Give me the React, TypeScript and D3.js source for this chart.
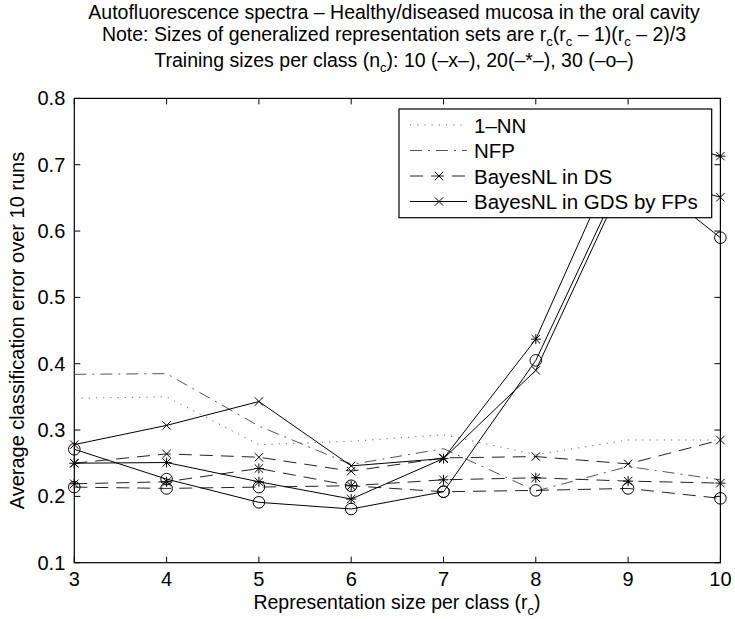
import React from "react";
import * as d3 from "d3";

const xs = [3, 4, 5, 6, 7, 8, 9, 10];
const oneNN = [0.348, 0.350, 0.278, 0.283, 0.293, 0.263, 0.285, 0.285];
const nfp = [0.384, 0.385, 0.306, 0.248, 0.272, 0.208, 0.245, 0.225];
const dsN10 = [0.250, 0.264, 0.259, 0.238, 0.258, 0.260, 0.249, 0.285];
const dsN20 = [0.219, 0.222, 0.242, 0.216, 0.225, 0.228, 0.223, 0.220];
const dsN30 = [0.214, 0.212, 0.214, 0.216, 0.207, 0.209, 0.212, 0.197];
const gdsN10 = [0.278, 0.307, 0.343, 0.246, 0.257, 0.390, 0.690, 0.651];
const gdsN20 = [0.250, 0.251, 0.222, 0.196, 0.257, 0.437, 0.748, 0.713];
const gdsN30 = [0.271, 0.226, 0.191, 0.181, 0.207, 0.405, 0.700, 0.590];

const yTicks = [0.1, 0.2, 0.3, 0.4, 0.5, 0.6, 0.7, 0.8];
const legendLabels = ["1–NN", "NFP", "BayesNL in DS", "BayesNL in GDS by FPs"];

const W = 735, H = 619;
const L = 74.3, R = 720.4, T = 98.4, B = 562.7;
const FONT = "'Liberation Sans', Arial, Helvetica, sans-serif";

type Style = { color: string; dash: string | null; width: number };
const S_DOT: Style = { color: "#666", dash: "1.2,6", width: 1 };
const S_DASHDOT: Style = { color: "#555", dash: "12,6,2,6", width: 1 };
const S_DASH: Style = { color: "#222", dash: "13,8", width: 1 };
const S_SOLID: Style = { color: "#000", dash: null, width: 1 };

function Marker({ kind, x, y }: { kind: string; x: number; y: number }) {
  const s = 4.2;
  if (kind === "o") return <circle cx={x} cy={y} r={5.8} fill="none" stroke="#000" strokeWidth={1} />;
  if (kind === "x")
    return <path d={`M${x - s},${y - s}L${x + s},${y + s}M${x - s},${y + s}L${x + s},${y - s}`} stroke="#000" strokeWidth={1} />;
  const t = 5;
  return (
    <path
      d={`M${x - s},${y - s}L${x + s},${y + s}M${x - s},${y + s}L${x + s},${y - s}M${x},${y - t}L${x},${y + t}M${x - t},${y}L${x + t},${y}`}
      stroke="#000"
      strokeWidth={1}
    />
  );
}

export default function App() {
  const x = d3.scaleLinear().domain([3, 10]).range([L, R]);
  const y = d3.scaleLinear().domain([0.1, 0.8]).range([B, T]);
  const line = d3
    .line<number>()
    .x((_, i) => x(xs[i]))
    .y((d) => y(d));

  const series: { data: number[]; style: Style; marker: string | null }[] = [
    { data: oneNN, style: S_DOT, marker: null },
    { data: nfp, style: S_DASHDOT, marker: null },
    { data: dsN10, style: S_DASH, marker: "x" },
    { data: dsN20, style: S_DASH, marker: "*" },
    { data: dsN30, style: S_DASH, marker: "o" },
    { data: gdsN10, style: S_SOLID, marker: "x" },
    { data: gdsN20, style: S_SOLID, marker: "*" },
    { data: gdsN30, style: S_SOLID, marker: "o" },
  ];

  const legendStyles = [S_DOT, S_DASHDOT, S_DASH, S_SOLID];
  const legendMarkers = [null, null, "x", "x"];
  const lgX0 = 399, lgY0 = 109, lgX1 = 711.7, lgY1 = 217.7;
  const rowY = (i: number) => 125 + i * 25.5;

  return (
    <svg width={W} height={H} style={{ position: "absolute", left: 0, top: 0, background: "#fff" }} fontFamily={FONT}>
      <rect x={0} y={0} width={W} height={H} fill="#fff" />
      {/* title */}
      <g textAnchor="middle" fontSize={19.5} fill="#000">
        <text x={394} y={19}>Autofluorescence spectra – Healthy/diseased mucosa in the oral cavity</text>
        <text x={394} y={41}>
          Note: Sizes of generalized representation sets are r<tspan fontSize={13} dy={5}>c</tspan>
          <tspan dy={-5}>(r</tspan><tspan fontSize={13} dy={5}>c</tspan>
          <tspan dy={-5}> – 1)(r</tspan><tspan fontSize={13} dy={5}>c</tspan>
          <tspan dy={-5}> – 2)/3</tspan>
        </text>
        <text x={394} y={67}>
          Training sizes per class (n<tspan fontSize={13} dy={5}>c</tspan>
          <tspan dy={-5}>): 10 (–x–), 20(–*–), 30 (–o–)</tspan>
        </text>
      </g>

      {/* axes box */}
      <rect x={L} y={T} width={R - L} height={B - T} fill="none" stroke="#000" strokeWidth={1.2} />
      {xs.map((v) => (
        <g key={"xt" + v}>
          <line x1={x(v)} x2={x(v)} y1={B} y2={B - 6} stroke="#000" />
          <line x1={x(v)} x2={x(v)} y1={T} y2={T + 6} stroke="#000" />
          <text x={x(v)} y={B + 23} textAnchor="middle" fontSize={20}>{v}</text>
        </g>
      ))}
      {yTicks.map((v) => (
        <g key={"yt" + v}>
          <line x1={L} x2={L + 6} y1={y(v)} y2={y(v)} stroke="#000" />
          <line x1={R} x2={R - 6} y1={y(v)} y2={y(v)} stroke="#000" />
          <text x={L - 9} y={y(v) + 7} textAnchor="end" fontSize={20}>{v.toFixed(1)}</text>
        </g>
      ))}

      {/* axis labels */}
      <text x={397} y={609} textAnchor="middle" fontSize={19.5}>
        Representation size per class (r<tspan fontSize={13} dy={6}>c</tspan><tspan dy={-6}>)</tspan>
      </text>
      <text transform={`translate(24,${(T + B) / 2}) rotate(-90)`} textAnchor="middle" fontSize={20}>
        Average classification error over 10 runs
      </text>

      {/* series */}
      {series.map((s, k) => (
        <g key={"s" + k}>
          <path d={line(s.data) || ""} fill="none" stroke={s.style.color} strokeWidth={s.style.width} strokeDasharray={s.style.dash || undefined} />
          {s.marker && s.data.map((d, i) => <Marker key={i} kind={s.marker as string} x={x(xs[i])} y={y(d)} />)}
        </g>
      ))}

      {/* legend */}
      <rect x={lgX0} y={lgY0} width={lgX1 - lgX0} height={lgY1 - lgY0} fill="#fff" stroke="#000" strokeWidth={1.2} />
      {legendLabels.map((lab, i) => (
        <g key={"lg" + i}>
          <line x1={410} x2={467} y1={rowY(i)} y2={rowY(i)} stroke={legendStyles[i].color} strokeDasharray={legendStyles[i].dash || undefined} />
          {legendMarkers[i] && <Marker kind={legendMarkers[i] as string} x={439} y={rowY(i)} />}
          <text x={474} y={rowY(i) + 7.5} fontSize={20.5}>{lab}</text>
        </g>
      ))}
    </svg>
  );
}
